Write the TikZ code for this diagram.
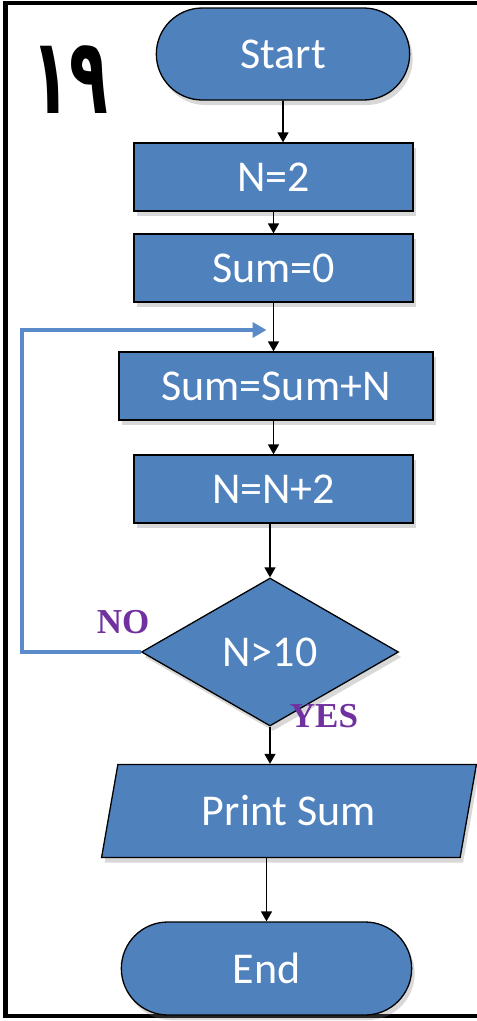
\documentclass[tikz,border=0pt]{standalone}
\usepackage{fontspec}
\setmainfont{Carlito}
\newfontfamily\arabicfont[Script=Arabic]{DejaVu Sans}
\newfontfamily\labelfont{Liberation Serif}
\usetikzlibrary{positioning,arrows.meta,shapes.geometric,shapes.misc,shadows}
\TeXXeTstate=1

\definecolor{boxblue}{HTML}{4F81BD}
\definecolor{loopblue}{HTML}{5A8BC8}
\definecolor{labpurple}{HTML}{7030A0}

\tikzset{
  flowbox/.style={draw=black,line width=1.3pt,fill=boxblue,text=white,
    font=\fontsize{44}{50}\selectfont,
    drop shadow={shadow xshift=3pt,shadow yshift=-5pt,opacity=0.3}},
  procbox/.style={flowbox,rectangle,minimum height=68pt},
  termbox/.style={flowbox,rounded rectangle,minimum height=92pt},
  flowline/.style={draw=black,line width=1.6pt,-{Triangle[length=10pt,width=11pt]}},
  loopline/.style={draw=loopblue,line width=3.5pt,-{Triangle[length=14pt,width=15pt]}},
  yesno/.style={text=labpurple,font=\labelfont\bfseries\fontsize{35}{40}\selectfont}
}

\begin{document}
\begin{tikzpicture}[x=1pt,y=-1pt]
  \fill[white] (0,0) rectangle (477,1021);
  \useasboundingbox (0,0) rectangle (477,1021);
  % frame, right side cut off
  \draw[line width=4.5pt] (477,3) -- (5.5,3) -- (5.5,1016) -- (477,1016);
  \node[font=\arabicfont\bfseries\fontsize{106}{110}\selectfont] (num) at (70,80)
    {\scalebox{0.6}[1]{١٩}};

  \node[termbox,minimum width=260pt] (start) at (283,54) {Start};
  \node[procbox,minimum width=279pt] (n2) at (273.5,177) {N=2};
  \node[procbox,minimum width=279pt] (sum0) at (273.5,268) {Sum=0};
  \node[procbox,minimum width=314pt] (sumN) at (276,386) {Sum=Sum+N};
  \node[procbox,minimum width=279pt] (nN) at (273.5,489) {N=N+2};
  \node[flowbox,diamond,minimum width=257pt,minimum height=148pt,inner sep=0pt] (dec) at (270,652) {N>10};
  \node[flowbox,trapezium,trapezium left angle=77,trapezium right angle=103,
    trapezium stretches,minimum width=375pt,minimum height=93pt] (print) at (289,811) {Print Sum};
  \node[termbox,minimum width=297pt,minimum height=93pt] (end) at (266.5,968.5) {End};

  \node[yesno] (no) at (123,622) {NO};
  \node[yesno] (yes) at (324,716) {YES};

  \coordinate (join) at (273.5,330);
  \coordinate (loopcorner) at (22,330);

  \draw[flowline] (start) -- (start |- n2.north);
  \draw[flowline] (n2) -- (sum0);
  \draw[flowline] (sum0) -- (sumN.north -| sum0);
  \draw[flowline] (sumN.south -| nN) -- (nN);
  \draw[flowline] (nN.south -| dec) -- (dec);
  \draw[flowline] (dec.south) -- (dec.south |- print.north);
  \draw[flowline] (end |- print.south) -- (end.north);
  \draw[loopline,shorten >=7pt] (dec.west) -| (loopcorner) -- (join);
\end{tikzpicture}
\end{document}
